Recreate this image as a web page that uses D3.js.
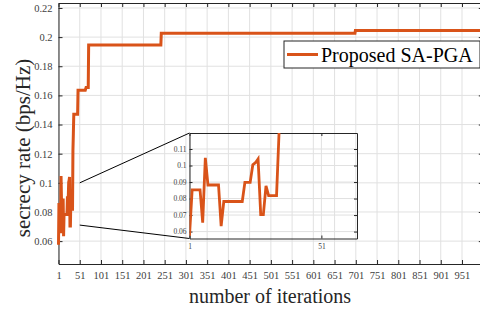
<!DOCTYPE html>
<html>
<head>
<meta charset="utf-8">
<script src="https://cdn.jsdelivr.net/npm/d3@7"></script>
<style>
  body { margin: 0; background: #fff; }
  svg { display: block; overflow: hidden; }
  text { font-family: "Liberation Serif", "DejaVu Serif", serif; }
</style>
</head>
<body>
<div id="chart"></div>
<script>
// breakpoints of the curve (iteration, secrecy rate)
var iterations = [1, 2, 5, 6, 7, 8, 12, 13, 14, 21, 22, 24, 25, 26, 27, 28, 29, 30, 31, 34,
                  35, 36, 37, 46, 47, 64, 66, 71, 72, 242, 243, 699, 700, 1000];
var rates = [0.0575, 0.0852, 0.0852, 0.0654, 0.1047, 0.0882, 0.0882, 0.0633, 0.0782, 0.0782,
             0.0898, 0.0898, 0.1005, 0.1017, 0.104, 0.0703, 0.0703, 0.0877, 0.0818, 0.0818,
             0.122, 0.134, 0.147, 0.147, 0.1635, 0.1635, 0.1655, 0.1655, 0.1945, 0.1945,
             0.2027, 0.2027, 0.2045, 0.2045];

var xTicks = d3.range(1, 1000, 50);             // 1, 51, ..., 951
var yTicks = [0.06, 0.08, 0.1, 0.12, 0.14, 0.16, 0.18, 0.2, 0.22];
var insetXTicks = [1, 51];
var insetYTicks = [0.06, 0.07, 0.08, 0.09, 0.1, 0.11];
var seriesName = "Proposed SA-PGA";

var data = iterations.map(function(d, i) { return {it: d, v: rates[i]}; });

var W = 480, H = 310;
var margin = {top: 3, left: 58.5},
    width = 424.3,
    height = 261;

var svg = d3.select("#chart").append("svg")
    .attr("width", W)
    .attr("height", H);

var g = svg.append("g")
    .attr("transform", "translate(" + margin.left + "," + margin.top + ")");

var x = d3.scaleLinear().domain([1, 1000]).range([0, width]);
var y = d3.scaleLinear().domain([0.0443, 0.2234]).range([height, 0]);

var color = "#D95319";
var axisColor = "#262626";
var gridColor = "#e1e1e1";

// grid
g.append("g").selectAll("line").data(xTicks).enter().append("line")
    .attr("x1", function(d) { return x(d); }).attr("x2", function(d) { return x(d); })
    .attr("y1", 0).attr("y2", height)
    .attr("stroke", gridColor).attr("stroke-width", 1);
g.append("g").selectAll("line").data(yTicks).enter().append("line")
    .attr("y1", function(d) { return y(d); }).attr("y2", function(d) { return y(d); })
    .attr("x1", 0).attr("x2", width)
    .attr("stroke", gridColor).attr("stroke-width", 1);

// axes (inward ticks, box)
function styleAxis(sel) {
  sel.select(".domain").attr("stroke", axisColor);
  sel.selectAll(".tick line").attr("stroke", axisColor);
  sel.selectAll(".tick text").attr("fill", "#404040").style("font-size", "10.5px")
     .style("font-family", "'Liberation Serif', serif");
}

g.append("g")
    .attr("transform", "translate(0," + height + ")")
    .call(d3.axisBottom(x).tickValues(xTicks).tickSizeInner(-4).tickSizeOuter(0).tickPadding(8)
          .tickFormat(d3.format("d")))
    .call(styleAxis);

g.append("g")
    .call(d3.axisTop(x).tickValues(xTicks).tickSizeInner(-4).tickSizeOuter(0).tickFormat(""))
    .call(styleAxis);

g.append("g")
    .call(d3.axisLeft(y).tickValues(yTicks).tickSizeInner(-4).tickSizeOuter(0).tickPadding(6)
          .tickFormat(function(d) { return d3.format("")(+d.toFixed(2)); }))
    .call(styleAxis);

g.append("g")
    .attr("transform", "translate(" + width + ",0)")
    .call(d3.axisRight(y).tickValues(yTicks).tickSizeInner(-4).tickSizeOuter(0).tickFormat(""))
    .call(styleAxis);

// main curve
var line = d3.line()
    .x(function(d) { return x(d.it); })
    .y(function(d) { return y(d.v); });

g.append("path")
    .datum(data)
    .attr("fill", "none")
    .attr("stroke", color)
    .attr("stroke-width", 3)
    .attr("stroke-linejoin", "miter")
    .attr("d", line);

// axis titles
svg.append("text")
    .attr("x", 270).attr("y", 303)
    .attr("text-anchor", "middle")
    .style("font-size", "20px")
    .attr("fill", "#262626")
    .text("number of iterations");

svg.append("text")
    .attr("transform", "translate(30,148) rotate(-90)")
    .attr("text-anchor", "middle")
    .style("font-size", "21px")
    .attr("fill", "#262626")
    .text("secrecy rate (bps/Hz)");

// legend
var leg = svg.append("g").attr("transform", "translate(284,41)");
leg.append("rect")
    .attr("width", 196).attr("height", 27)
    .attr("fill", "#fff").attr("stroke", axisColor).attr("stroke-width", 1);
leg.append("line")
    .attr("x1", 3).attr("x2", 34).attr("y1", 13.5).attr("y2", 13.5)
    .attr("stroke", color).attr("stroke-width", 3);
leg.append("text")
    .attr("x", 37).attr("y", 20.5)
    .style("font-size", "20px")
    .attr("fill", "#000")
    .text(seriesName);

// inset
var ix = d3.scaleLinear().domain([1, 64.5]).range([189.5, 357]);
var iy = d3.scaleLinear().domain([0.0558, 0.1197]).range([238.5, 133]);

// connector lines
svg.append("line")
    .attr("x1", margin.left + x(51)).attr("y1", margin.top + y(0.1))
    .attr("x2", ix(1)).attr("y2", iy(0.1197))
    .attr("stroke", "#000").attr("stroke-width", 1);
svg.append("line")
    .attr("x1", margin.left + x(51)).attr("y1", margin.top + y(0.071))
    .attr("x2", ix(1)).attr("y2", iy(0.0558))
    .attr("stroke", "#000").attr("stroke-width", 1);

var ig = svg.append("g");
svg.append("clipPath").attr("id", "insetClip")
  .append("rect")
    .attr("x", ix(1)).attr("y", iy(0.1197))
    .attr("width", ix(64.5) - ix(1)).attr("height", iy(0.0558) - iy(0.1197));

ig.append("g").selectAll("line").data(insetYTicks).enter().append("line")
    .attr("x1", ix(1)).attr("x2", ix(64.5))
    .attr("y1", function(d) { return iy(d); }).attr("y2", function(d) { return iy(d); })
    .attr("stroke", gridColor);
ig.append("g").selectAll("line").data(insetXTicks).enter().append("line")
    .attr("y1", iy(0.0558)).attr("y2", iy(0.1197))
    .attr("x1", function(d) { return ix(d); }).attr("x2", function(d) { return ix(d); })
    .attr("stroke", gridColor);

function styleInset(sel) {
  sel.select(".domain").attr("stroke", axisColor);
  sel.selectAll(".tick line").attr("stroke", axisColor);
  sel.selectAll(".tick text").attr("fill", "#404040").style("font-size", "7.5px")
     .style("font-family", "'Liberation Serif', serif");
}

ig.append("g")
    .attr("transform", "translate(0," + iy(0.0558) + ")")
    .call(d3.axisBottom(ix).tickValues(insetXTicks).tickSizeInner(-3).tickSizeOuter(0).tickPadding(5)
          .tickFormat(d3.format("d")))
    .call(styleInset);
ig.append("g")
    .attr("transform", "translate(0," + iy(0.1197) + ")")
    .call(d3.axisTop(ix).tickValues(insetXTicks).tickSizeInner(-3).tickSizeOuter(0).tickFormat(""))
    .call(styleInset);
ig.append("g")
    .attr("transform", "translate(" + ix(1) + ",0)")
    .call(d3.axisLeft(iy).tickValues(insetYTicks).tickSizeInner(-3).tickSizeOuter(0).tickPadding(3)
          .tickFormat(function(d) { return d3.format("")(+d.toFixed(2)); }))
    .call(styleInset);
ig.append("g")
    .attr("transform", "translate(" + ix(64.5) + ",0)")
    .call(d3.axisRight(iy).tickValues(insetYTicks).tickSizeInner(-3).tickSizeOuter(0).tickFormat(""))
    .call(styleInset);

var iline = d3.line()
    .x(function(d) { return ix(d.it); })
    .y(function(d) { return iy(d.v); });

ig.append("path")
    .datum(data.filter(function(d) { return d.it <= 40; }))
    .attr("clip-path", "url(#insetClip)")
    .attr("fill", "none")
    .attr("stroke", color)
    .attr("stroke-width", 2.8)
    .attr("d", iline);
</script>
</body>
</html>
